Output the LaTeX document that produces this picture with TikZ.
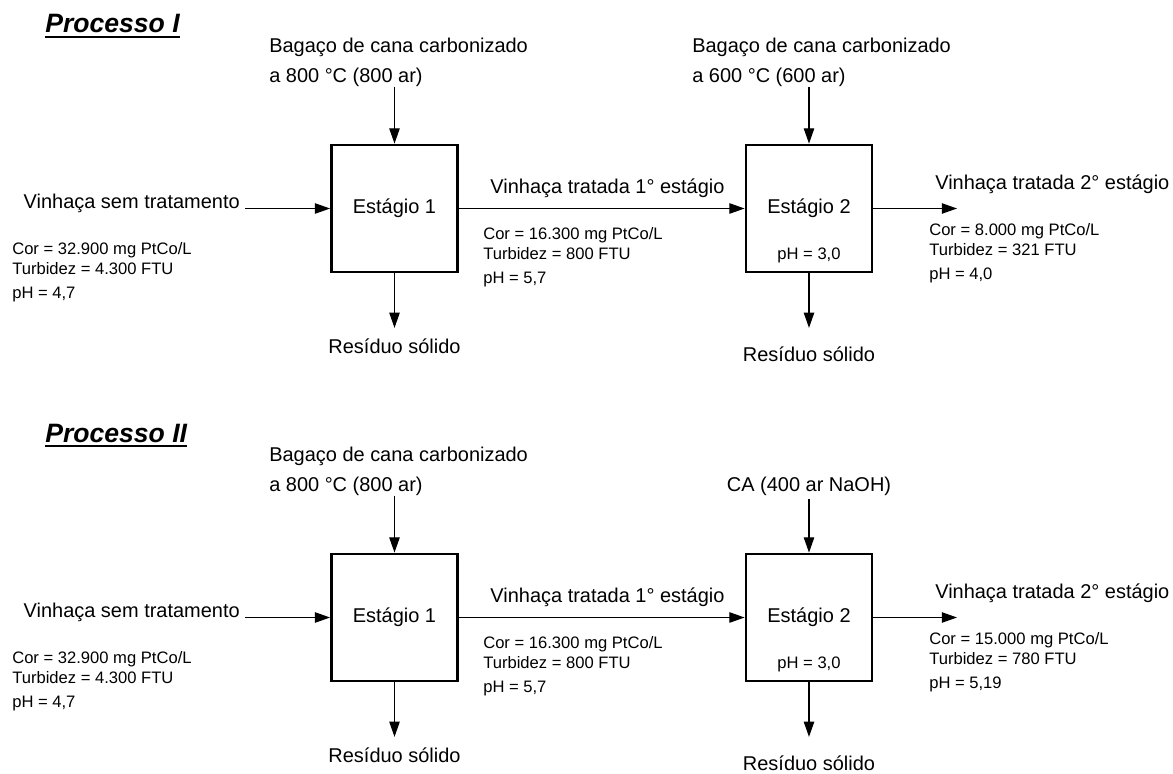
\documentclass[tikz,border=0pt]{standalone}
\usepackage{fontspec}
\setmainfont{Liberation Sans}
\usetikzlibrary{positioning,arrows.meta}
\newcommand{\lblfont}{\fontsize{14.2}{21.3}\selectfont}
\newcommand{\datfont}{\fontsize{11.8}{14.2}\selectfont}
\newcommand{\titfont}{\fontsize{18.9}{22}\selectfont\bfseries\itshape}
\newcommand{\ultitle}[1]{\setbox0\hbox{#1}\rlap{\rule[-3.6pt]{\wd0}{1.4pt}}\box0}

\begin{document}
\begin{tikzpicture}[x=0.25mm, y=-0.25mm, font=\lblfont,
  stage/.style={draw, line width=2pt, minimum width=31.5mm,
                minimum height=31.75mm, inner sep=0pt},
  lbl/.style={inner sep=0pt, align=left},
  dat/.style={inner sep=0pt, align=left, font=\datfont},
  arr/.style={-{Triangle[length=3.8mm,width=2.6mm]}, line width=0.8pt},
]
\useasboundingbox (0,0) rectangle (1173,774);

% Processo I
\node[lbl, font=\titfont, anchor=base west] (tita) at (45,33) {\ultitle{Processo I}};
\node[stage] (est1a) at (394.5,208.5) {Estágio 1};
\node[stage] (est2a) at (809,208.5) {Estágio 2};
\node[dat] (ph2a) at (809,255) {pH = 3,0};
\node[lbl, anchor=north west] (bag1a) at (269,37.5)
  {Bagaço de cana carbonizado\\ a 800 °C (800 ar)};
\node[lbl, anchor=north west] (bag2a) at (692,37.5)
  {Bagaço de cana carbonizado\\ a 600 °C (600 ar)};
\node[lbl, inner xsep=1.25mm, anchor=base east] (vina) at (245,208.5)
  {Vinhaça sem tratamento};
\node[dat, anchor=north west] (in1a) at (12,242)
  {Cor = 32.900 mg PtCo/L\\ Turbidez = 4.300 FTU\\[2.8pt] pH = 4,7};
\node[dat, anchor=north west] (in2a) at (483,227)
  {Cor = 16.300 mg PtCo/L\\ Turbidez = 800 FTU\\[2.8pt] pH = 5,7};
\node[lbl, anchor=base west] (tr2a) at (935,189) {Vinhaça tratada 2° estágio};
\node[dat, anchor=north west] (outa) at (929,223)
  {Cor = 8.000 mg PtCo/L\\ Turbidez = 321 FTU\\[2.8pt] pH = 4,0};
\node[lbl] (res1a) at (394.5,346) {Resíduo sólido};
\node[lbl] (res2a) at (809,354) {Resíduo sólido};
\coordinate (enda) at (957,208.5);
\draw[arr] (vina.base east) -- (est1a);
\draw[arr] (est1a) -- node[above=2.6mm, inner sep=0pt, pos=0.52] (tr1a)
  {Vinhaça tratada 1° estágio} (est2a);
\draw[arr] (est2a) -- (enda);
\draw[arr] (bag1a.south -| est1a.north) -- (est1a.north);
\draw[arr] (bag2a.south -| est2a.north) -- (est2a.north);
\draw[arr, shorten >=2.6mm] (est1a) -- (res1a);
\draw[arr, shorten >=4.6mm] (est2a) -- (res2a);

% Processo II
\begin{scope}[shift={(0,409)}]
\node[lbl, font=\titfont, anchor=base west] (titb) at (45,33) {\ultitle{Processo II}};
\node[stage] (est1b) at (394.5,208.5) {Estágio 1};
\node[stage] (est2b) at (809,208.5) {Estágio 2};
\node[dat] (ph2b) at (809,255) {pH = 3,0};
\node[lbl, anchor=north west] (bag1b) at (269,37.5)
  {Bagaço de cana carbonizado\\ a 800 °C (800 ar)};
\node[lbl, anchor=base] (cab) at (809,82) {CA (400 ar NaOH)};
\node[lbl, inner xsep=1.25mm, anchor=base east] (vinb) at (245,208.5)
  {Vinhaça sem tratamento};
\node[dat, anchor=north west] (in1b) at (12,242)
  {Cor = 32.900 mg PtCo/L\\ Turbidez = 4.300 FTU\\[2.8pt] pH = 4,7};
\node[dat, anchor=north west] (in2b) at (483,227)
  {Cor = 16.300 mg PtCo/L\\ Turbidez = 800 FTU\\[2.8pt] pH = 5,7};
\node[lbl, anchor=base west] (tr2b) at (935,189) {Vinhaça tratada 2° estágio};
\node[dat, anchor=north west] (outb) at (929,223)
  {Cor = 15.000 mg PtCo/L\\ Turbidez = 780 FTU\\[2.8pt] pH = 5,19};
\node[lbl] (res1b) at (394.5,346) {Resíduo sólido};
\node[lbl] (res2b) at (809,354) {Resíduo sólido};
\coordinate (endb) at (957,208.5);
\draw[arr] (vinb.base east) -- (est1b);
\draw[arr] (est1b) -- node[above=2.6mm, inner sep=0pt, pos=0.52] (tr1b)
  {Vinhaça tratada 1° estágio} (est2b);
\draw[arr] (est2b) -- (endb);
\draw[arr] (bag1b.south -| est1b.north) -- (est1b.north);
\draw[arr, shorten <=1mm] (cab.south) -- (est2b.north);
\draw[arr, shorten >=2.6mm] (est1b) -- (res1b);
\draw[arr, shorten >=4.6mm] (est2b) -- (res2b);
\end{scope}
\end{tikzpicture}
\end{document}
